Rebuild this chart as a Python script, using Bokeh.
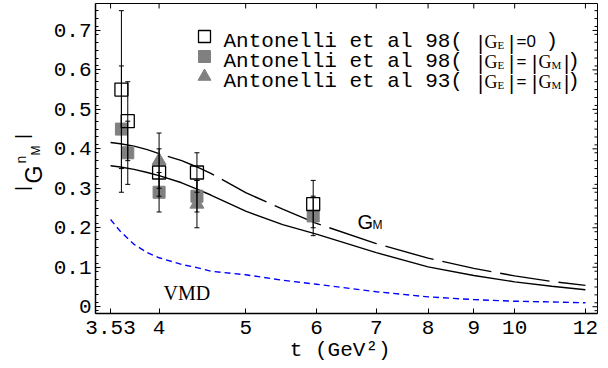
import math
from bokeh.plotting import figure
from bokeh.layouts import row
from bokeh.models import (Range1d, FixedTicker, LinearScale, NumeralTickFormatter, Whisker,
                          TeeHead, ColumnDataSource)
from bokeh.core.properties import value
from bokeh.embed import file_html
from bokeh.resources import INLINE

# ---------------- data ----------------
t_curve = [3.53, 3.62, 3.75, 3.88, 4.0, 4.24, 4.41, 4.57, 5.0, 5.5, 6.0, 7.0, 8.0, 9.0, 10.0, 11.0, 12.0]
gm_solid = [0.357, 0.354, 0.348, 0.340, 0.332, 0.314, 0.298, 0.283, 0.242, 0.208, 0.184,
            0.137, 0.101, 0.079, 0.063, 0.052, 0.043]
gm_dashed = [0.416, 0.413, 0.407, 0.398, 0.388, 0.370, 0.354, 0.338, 0.289, 0.247, 0.211,
             0.160, 0.123, 0.097, 0.078, 0.064, 0.054]
vmd = [0.221, 0.191, 0.158, 0.137, 0.124, 0.107, 0.099, 0.090, 0.081, 0.067, 0.057,
       0.038, 0.025, 0.018, 0.014, 0.012, 0.010]

t_98 = [3.63, 3.69, 4.0, 4.41, 5.95]
g_98_ge0 = [0.55, 0.47, 0.34, 0.34, 0.26]
err_98_ge0 = [0.20, 0.10, 0.06, 0.05, 0.06]
g_98_geq = [0.45, 0.39, 0.29, 0.28, 0.23]
err_98_geq = [0.16, 0.08, 0.05, 0.04, 0.05]
t_93 = [4.0, 4.41]
g_93 = [0.37, 0.26]
err_93 = [0.07, 0.06]

x_ticks = [3.53, 4, 5, 6, 7, 8, 9, 10, 12]
y_ticks = [0, 0.1, 0.2, 0.3, 0.4, 0.5, 0.6, 0.7]
y_minor = [round(-0.01 + 0.02 * i, 2) for i in range(39)]
legend_labels = ["Antonelli et al 98(", "Antonelli et al 98(", "Antonelli et al 93("]
x_label = "t  (GeV²)"

GRAY = "#808080"
MONO = "Liberation Mono"
W, H = 608, 368
YL_W = 46          # width of the strip holding the y-axis title
FRAME_W, FRAME_H = 502, 310
X0, X1 = 3.3955, 12.379
Y0, Y1 = -0.0172, 0.7682

p = figure(width=W - YL_W, height=H, x_axis_type="log",
           x_range=Range1d(X0, X1), y_range=Range1d(Y0, Y1),
           output_backend="svg", toolbar_location=None,
           min_border_left=95 - YL_W, min_border_right=11, min_border_top=3, min_border_bottom=55)
p.grid.visible = False
p.outline_line_color = "black"
p.outline_line_width = 1
p.background_fill_color = "white"
p.border_fill_color = "white"

# pixel-based helper range for annotations inside the frame
p.extra_x_ranges = {"px": Range1d(0, FRAME_W)}
p.extra_y_ranges = {"px": Range1d(0, FRAME_H)}
p.extra_x_scales = {"px": LinearScale()}
p.extra_y_scales = {"px": LinearScale()}

# bottom axis
xa = p.xaxis[0]
xa.ticker = FixedTicker(ticks=x_ticks, minor_ticks=[])
xa.formatter = NumeralTickFormatter(format="0.[00]")
xa.major_label_text_font = MONO
xa.major_label_text_font_size = "21px"
xa.major_label_text_color = "black"
xa.major_label_standoff = 7
xa.major_tick_in = 5
xa.major_tick_out = 0
xa.minor_tick_in = 0
xa.minor_tick_out = 0
xa.axis_line_color = "black"
xa.axis_line_width = 1.5
xa.major_tick_line_color = "black"
xa.axis_label = x_label
xa.axis_label_text_font = MONO
xa.axis_label_text_font_size = "21px"
xa.axis_label_text_font_style = "normal"
xa.axis_label_text_color = "black"
xa.axis_label_standoff = 2

# left axis
ya = p.yaxis[0]
ya.ticker = FixedTicker(ticks=y_ticks, minor_ticks=y_minor)
ya.formatter = NumeralTickFormatter(format="0.[0]")
ya.major_label_text_font = MONO
ya.major_label_text_font_size = "21px"
ya.major_label_text_color = "black"
ya.major_label_standoff = 4
ya.major_tick_in = 5
ya.major_tick_out = 0
ya.minor_tick_in = 3
ya.minor_tick_out = 0
ya.axis_line_color = "black"
ya.axis_line_width = 1.5
ya.major_tick_line_color = "black"
ya.minor_tick_line_color = "black"

# mirrored frame ticks on the top and right edges (drawn through the plot's scales)
ppu_y = FRAME_H / (Y1 - Y0)
ppu_x = FRAME_W / math.log(X1 / X0)
MAJ, MIN = 5, 3
p.segment(x0=x_ticks, y0=[Y1] * len(x_ticks), x1=x_ticks, y1=[Y1 - MAJ / ppu_y] * len(x_ticks),
          line_color="black", line_width=1)
p.segment(x0=[X1] * len(y_ticks), y0=y_ticks, x1=[X1 * math.exp(-MAJ / ppu_x)] * len(y_ticks),
          y1=y_ticks, line_color="black", line_width=1)
p.segment(x0=[X1] * len(y_minor), y0=y_minor, x1=[X1 * math.exp(-MIN / ppu_x)] * len(y_minor),
          y1=y_minor, line_color="black", line_width=1)

# curves
p.line(t_curve, gm_dashed, line_color="black", line_width=1.4, line_dash="50 9")
p.line(t_curve, gm_solid, line_color="black", line_width=1.4)
p.line(t_curve, vmd, line_color="#0000ff", line_width=1.4, line_dash="6 4")

# markers
p.scatter(t_98, g_98_geq, marker="square", size=12, fill_color=GRAY, line_color=GRAY)
p.scatter(t_93, g_93, marker="triangle", size=14, fill_color=GRAY, line_color=GRAY)
p.scatter(t_98, g_98_ge0, marker="square", size=13, fill_color=None, line_color="black",
          line_width=1.3)

# error bars
def add_err(ts, ys, es):
    src = ColumnDataSource(dict(t=ts, up=[y + e for y, e in zip(ys, es)],
                                lo=[y - e for y, e in zip(ys, es)]))
    w = Whisker(base="t", upper="up", lower="lo", source=src, line_color="black",
                line_width=1, level="overlay",
                upper_head=TeeHead(size=5, line_color="black", line_width=1),
                lower_head=TeeHead(size=5, line_color="black", line_width=1))
    p.add_layout(w)

add_err(t_98, g_98_ge0, err_98_ge0)
add_err(t_98, g_98_geq, err_98_geq)
add_err(t_93, g_93, err_93)

# ---------- texts inside the frame (pixel positions relative to frame) ----------
FL, FB = 95, 313

def lab(text, xr, yr, size, font, align="left", baseline="alphabetic"):
    p.text(x=[xr - FL], y=[FB - yr], text=[text], text_font=value(font),
           text_font_size=f"{size}px", text_align=align, text_baseline=baseline,
           text_color="black", x_range_name="px", y_range_name="px")

# curve labels
lab("G", 357, 221, 20, "Liberation Sans")
lab("M", 372, 224, 12, "Liberation Sans")
lab("VMD", 163, 292, 20, "Liberation Serif")

# legend
rows_base = [41, 61, 81]
for i, b in enumerate(rows_base):
    lab(legend_labels[i], 223, b, 21, MONO)
    lab("|", 477.5, b + 1, 20, "Liberation Sans")
    lab("G", 484, b, 18, "Liberation Serif")
    lab("E", 497, b + 3, 11, "Liberation Serif")
    lab("|", 508.5, b + 1, 20, "Liberation Sans")
    if i == 0:
        lab("=0", 516, b, 17, "Liberation Sans")
        lab(")", 545, b, 21, MONO)
    else:
        lab("=", 516, b, 17, "Liberation Sans")
        lab("|", 531.4, b + 1, 20, "Liberation Sans")
        lab("G", 538, b, 18, "Liberation Serif")
        lab("M", 551, b + 3, 11, "Liberation Serif")
        lab("|", 563.4, b + 1, 20, "Liberation Sans")
        lab(")", 566.7, b, 21, MONO)

leg_x = [204 - FL]
p.scatter(leg_x, [FB - 36], marker="square", size=12, fill_color=None, line_color="black",
          line_width=1.3, x_range_name="px", y_range_name="px")
p.scatter(leg_x, [FB - 56], marker="square", size=12, fill_color=GRAY, line_color=GRAY,
          x_range_name="px", y_range_name="px")
p.scatter(leg_x, [FB - 76], marker="triangle", size=13, fill_color=GRAY, line_color=GRAY,
          x_range_name="px", y_range_name="px")

# ---------- y-axis title strip: |G^n_M| rotated ----------
q = figure(frame_width=YL_W, frame_height=H, x_range=Range1d(0, YL_W), y_range=Range1d(0, H),
           output_backend="svg", toolbar_location=None, title=None,
           x_axis_location=None, y_axis_location=None,
           min_border_left=0, min_border_right=0, min_border_top=0, min_border_bottom=0)
q.grid.visible = False
q.outline_line_color = None
q.background_fill_color = "white"
q.border_fill_color = "white"

R = math.pi / 2

def ylab(text, xr, yr, size, font, align="left", baseline="alphabetic"):
    q.text(x=[xr], y=[H - yr], text=[text], angle=R, text_font=value(font),
           text_font_size=f"{size}px", text_align=align, text_baseline=baseline,
           text_color="black")

ylab("|", 21, 185, 19, "Liberation Sans", "center", "middle")
ylab("G", 33, 180, 23, "Liberation Sans")
ylab("n", 20, 160, 14, "Liberation Sans")
ylab("M", 35, 152, 12, "Liberation Sans")
ylab("|", 21, 133, 19, "Liberation Sans", "center", "middle")

layout = row(q, p, spacing=0)
open("out.html", "w").write(file_html(layout, INLINE))
